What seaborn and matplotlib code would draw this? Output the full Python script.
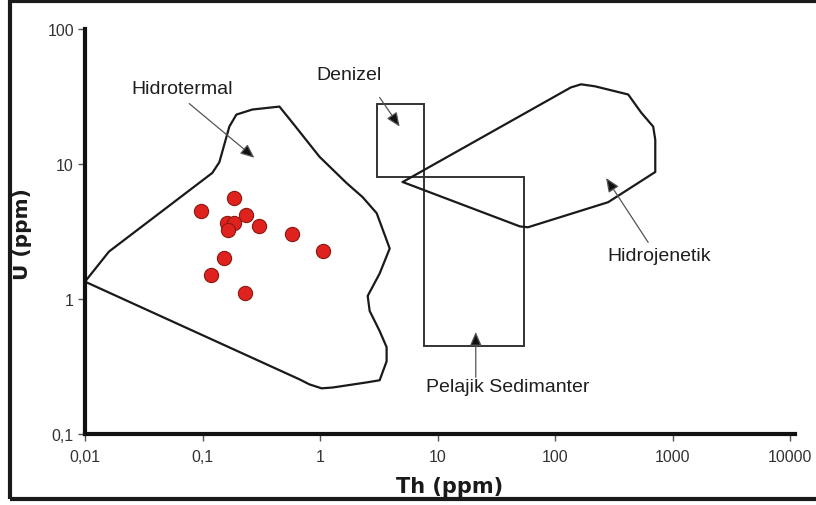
import matplotlib
matplotlib.use("Agg")
import matplotlib.pyplot as plt
from matplotlib.patches import Rectangle
from matplotlib.ticker import FixedLocator, FixedFormatter, NullLocator
import seaborn as sns
import pandas as pd

# Sample analyses (ppm)
th_samples = [0.097, 0.186, 0.234, 0.163, 0.186, 0.166, 0.304, 0.578, 1.05, 0.151, 0.119, 0.228]
u_samples = [4.48, 5.6, 4.16, 3.65, 3.65, 3.26, 3.45, 3.04, 2.25, 2.0, 1.51, 1.11]

# Field outlines (Th, U in ppm)
hidrotermal_th = [0.01, 0.016, 0.121, 0.139, 0.169, 0.194, 0.265, 0.451, 0.582, 0.988,
                  1.68, 2.30, 3.03, 3.91, 3.21, 2.54, 2.64, 3.21, 3.68, 3.68, 3.21,
                  2.49, 1.28, 1.03, 0.812, 0.667, 0.01]
hidrotermal_u = [1.34, 2.24, 8.57, 10.3, 18.9, 23.2, 25.3, 26.6, 20.2, 11.3,
                 7.21, 5.67, 4.31, 2.36, 1.54, 1.05, 0.813, 0.577, 0.438, 0.344, 0.249,
                 0.240, 0.220, 0.217, 0.232, 0.253, 1.34]

hidrojenetik_th = [5.04, 136, 166, 218, 418, 539, 682, 710, 710, 282, 58.6, 50.1, 5.04]
hidrojenetik_u = [7.34, 36.9, 38.9, 37.6, 32.7, 24.0, 18.9, 15.1, 8.71, 5.2, 3.39, 3.44, 7.34]

denizel_th = [3.05, 7.6]
denizel_u = [8.0, 27.6]

pelajik_th = [7.6, 54.0]
pelajik_u = [0.45, 8.0]

# Axis ticks
x_ticks = [0.01, 0.1, 1, 10, 100, 1000, 10000]
x_tick_labels = ["0,01", "0,1", "1", "10", "100", "1000", "10000"]
y_ticks = [0.1, 1, 10, 100]
y_tick_labels = ["0,1", "1", "10", "100"]

# Field labels: (text, label position, arrow tail, arrow head)
field_labels = ["Hidrotermal", "Denizel", "Hidrojenetik", "Pelajik Sedimanter"]
label_pos = [(0.0247, 33.3), (0.93, 42.4), (277, 1.95), (7.92, 0.209)]
arrow_tail = [(0.077, 28.0), (3.21, 31.1), (618, 2.62), (21.1, 0.262)]
arrow_head = [(0.276, 11.1), (4.75, 18.9), (271, 7.86), (21.1, 0.568)]

sns.set_theme(style="ticks")
plt.rcParams["font.family"] = ["Liberation Sans", "DejaVu Sans"]

fig = plt.figure(figsize=(8.16, 5.06), dpi=100)
ax = fig.add_axes([85 / 816, 1 - 434.7 / 506, 709.7 / 816, 404.7 / 506])
ax.set_xscale("log")
ax.set_yscale("log")
ax.set_xlim(0.01, 10900)
ax.set_ylim(0.1, 100)

line_kw = dict(color="#1a1a1a", lw=1.6, solid_joinstyle="round")
ax.plot(hidrotermal_th, hidrotermal_u, **line_kw)
ax.plot(hidrojenetik_th, hidrojenetik_u, **line_kw)

box_kw = dict(fill=False, ec="#333333", lw=1.4)
ax.add_patch(Rectangle((denizel_th[0], denizel_u[0]), denizel_th[1] - denizel_th[0],
                       denizel_u[1] - denizel_u[0], **box_kw))
ax.add_patch(Rectangle((pelajik_th[0], pelajik_u[0]), pelajik_th[1] - pelajik_th[0],
                       pelajik_u[1] - pelajik_u[0], **box_kw))

df = pd.DataFrame({"Th": th_samples, "U": u_samples})
sns.scatterplot(data=df, x="Th", y="U", ax=ax, s=105, color="#e0221f",
                edgecolor="#8a1a14", linewidth=0.8, zorder=5, legend=False)

for text, pos, tail, head in zip(field_labels, label_pos, arrow_tail, arrow_head):
    ax.text(pos[0], pos[1], text, fontsize=14, color="#1e1e1e",
            ha="left", va="baseline")
    ax.annotate("", xy=head, xytext=tail,
                arrowprops=dict(arrowstyle="-|>,head_length=0.7,head_width=0.3",
                                fc="#111111", ec="#555555", lw=0.9,
                                mutation_scale=12, shrinkA=0, shrinkB=0))

ax.xaxis.set_major_locator(FixedLocator(x_ticks))
ax.xaxis.set_major_formatter(FixedFormatter(x_tick_labels))
ax.yaxis.set_major_locator(FixedLocator(y_ticks))
ax.yaxis.set_major_formatter(FixedFormatter(y_tick_labels))
ax.xaxis.set_minor_locator(NullLocator())
ax.yaxis.set_minor_locator(NullLocator())

for side in ("top", "right"):
    ax.spines[side].set_visible(False)
for side in ("left", "bottom"):
    ax.spines[side].set_linewidth(3)
    ax.spines[side].set_color("#111111")

ax.tick_params(axis="both", which="major", direction="out", width=1.0,
               color="#555555", labelsize=11.5, labelcolor="#333333")
ax.tick_params(axis="x", length=5, pad=6)
ax.tick_params(axis="y", length=5, pad=3)

ax.set_xlabel("Th (ppm)", fontsize=15, fontweight="bold", family="DejaVu Sans",
              color="#1a1a1a")
ax.set_ylabel("U (ppm)", fontsize=14.5, fontweight="bold", family="DejaVu Sans",
              color="#1a1a1a")
ax.xaxis.set_label_coords(0.514, -0.104)
ax.yaxis.set_label_coords(-0.075, 0.496)
ax.set_facecolor("white")

# Outer frame around the figure
fig.patches.append(Rectangle((10 / 816, 1 - 500 / 506), 836 / 816, 498 / 506,
                             transform=fig.transFigure, fill=False,
                             ec="#1a1a1a", lw=3, clip_on=False))

fig.savefig("out.png", dpi=100, facecolor="white")
